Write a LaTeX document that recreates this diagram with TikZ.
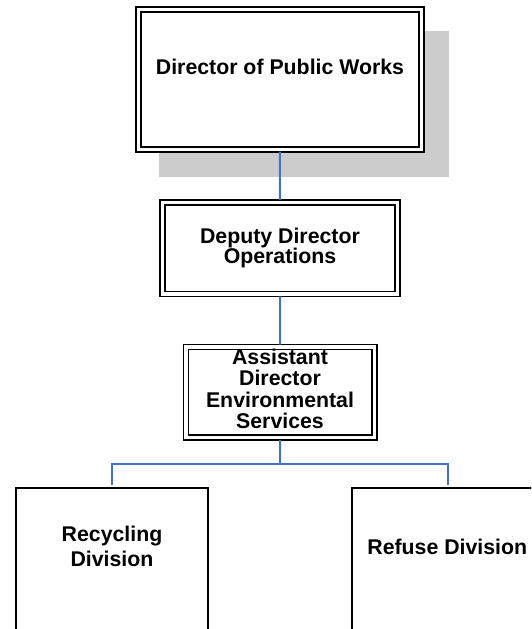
\documentclass[tikz,border=0pt]{standalone}
\usepackage{fontspec}
\setmainfont{Liberation Sans}
\begin{document}
\begin{tikzpicture}[x=1pt,y=-1pt,
  conn/.style={draw=linkblue,line width=2pt,shorten <=2.4pt,shorten >=2.4pt},
  dbox/.style={draw=black,fill=white,line width=1.75pt,double=white,double distance=3.25pt,
    rectangle,inner sep=0pt,outer sep=0pt},
  sbox/.style={draw=black,fill=white,line width=2pt,rectangle,inner sep=0pt,outer sep=0pt},
  lbl/.style={font=\bfseries\fontsize{21.3}{20}\selectfont,align=center,inner sep=0pt,anchor=base}]
\definecolor{linkblue}{HTML}{4472C4}
\definecolor{shadowgray}{HTML}{CCCCCC}
\useasboundingbox (0,0) rectangle (531,629);
\clip (0,0) rectangle (531,629);

% drop shadow behind the director's box
\fill[shadowgray] (159,31) rectangle (449,176.7);

% boxes
\node[dbox,minimum width=283.3pt,minimum height=139.8pt] (dpw) at (279.9,79.4) {};
\node[dbox,minimum width=235.3pt,minimum height=91.6pt] (dep) at (280,248.2) {};
\node[dbox,minimum width=188.2pt,minimum height=90.8pt] (asd) at (280.2,392.3) {};
\node[sbox,minimum width=191.8pt,minimum height=240pt] (rec) at (111.8,607.7) {};
\node[sbox,minimum width=190.6pt,minimum height=240pt] (ref) at (447.5,607.7) {};
\coordinate (bus) at (280,463.7);

% connectors
\draw[conn] (dpw.south) -- (dep.north);
\draw[conn] (dep.south) -- (asd.north);
\draw[conn,shorten >=0pt] (asd.south) -- (bus);
\draw[conn,shorten <=0pt] (bus) -| (rec.north);
\draw[conn,shorten <=0pt] (bus) -| (ref.north);

% labels (base anchor sits on the last line)
\node[lbl] (dpw-t) at (280,74) {Director of Public Works};
\node[lbl] (dep-t) at (280,263.3) {Deputy Director\\Operations};
\node[lbl,font=\bfseries\fontsize{21.3}{21.3}\selectfont] (asd-t) at (280,428.3) {Assistant\\Director\\Environmental\\Services};
\node[lbl,font=\bfseries\fontsize{21.3}{24.3}\selectfont] (rec-t) at (112,566) {Recycling\\Division};
\node[lbl] (ref-t) at (447.3,554) {Refuse Division};
\end{tikzpicture}
\end{document}
